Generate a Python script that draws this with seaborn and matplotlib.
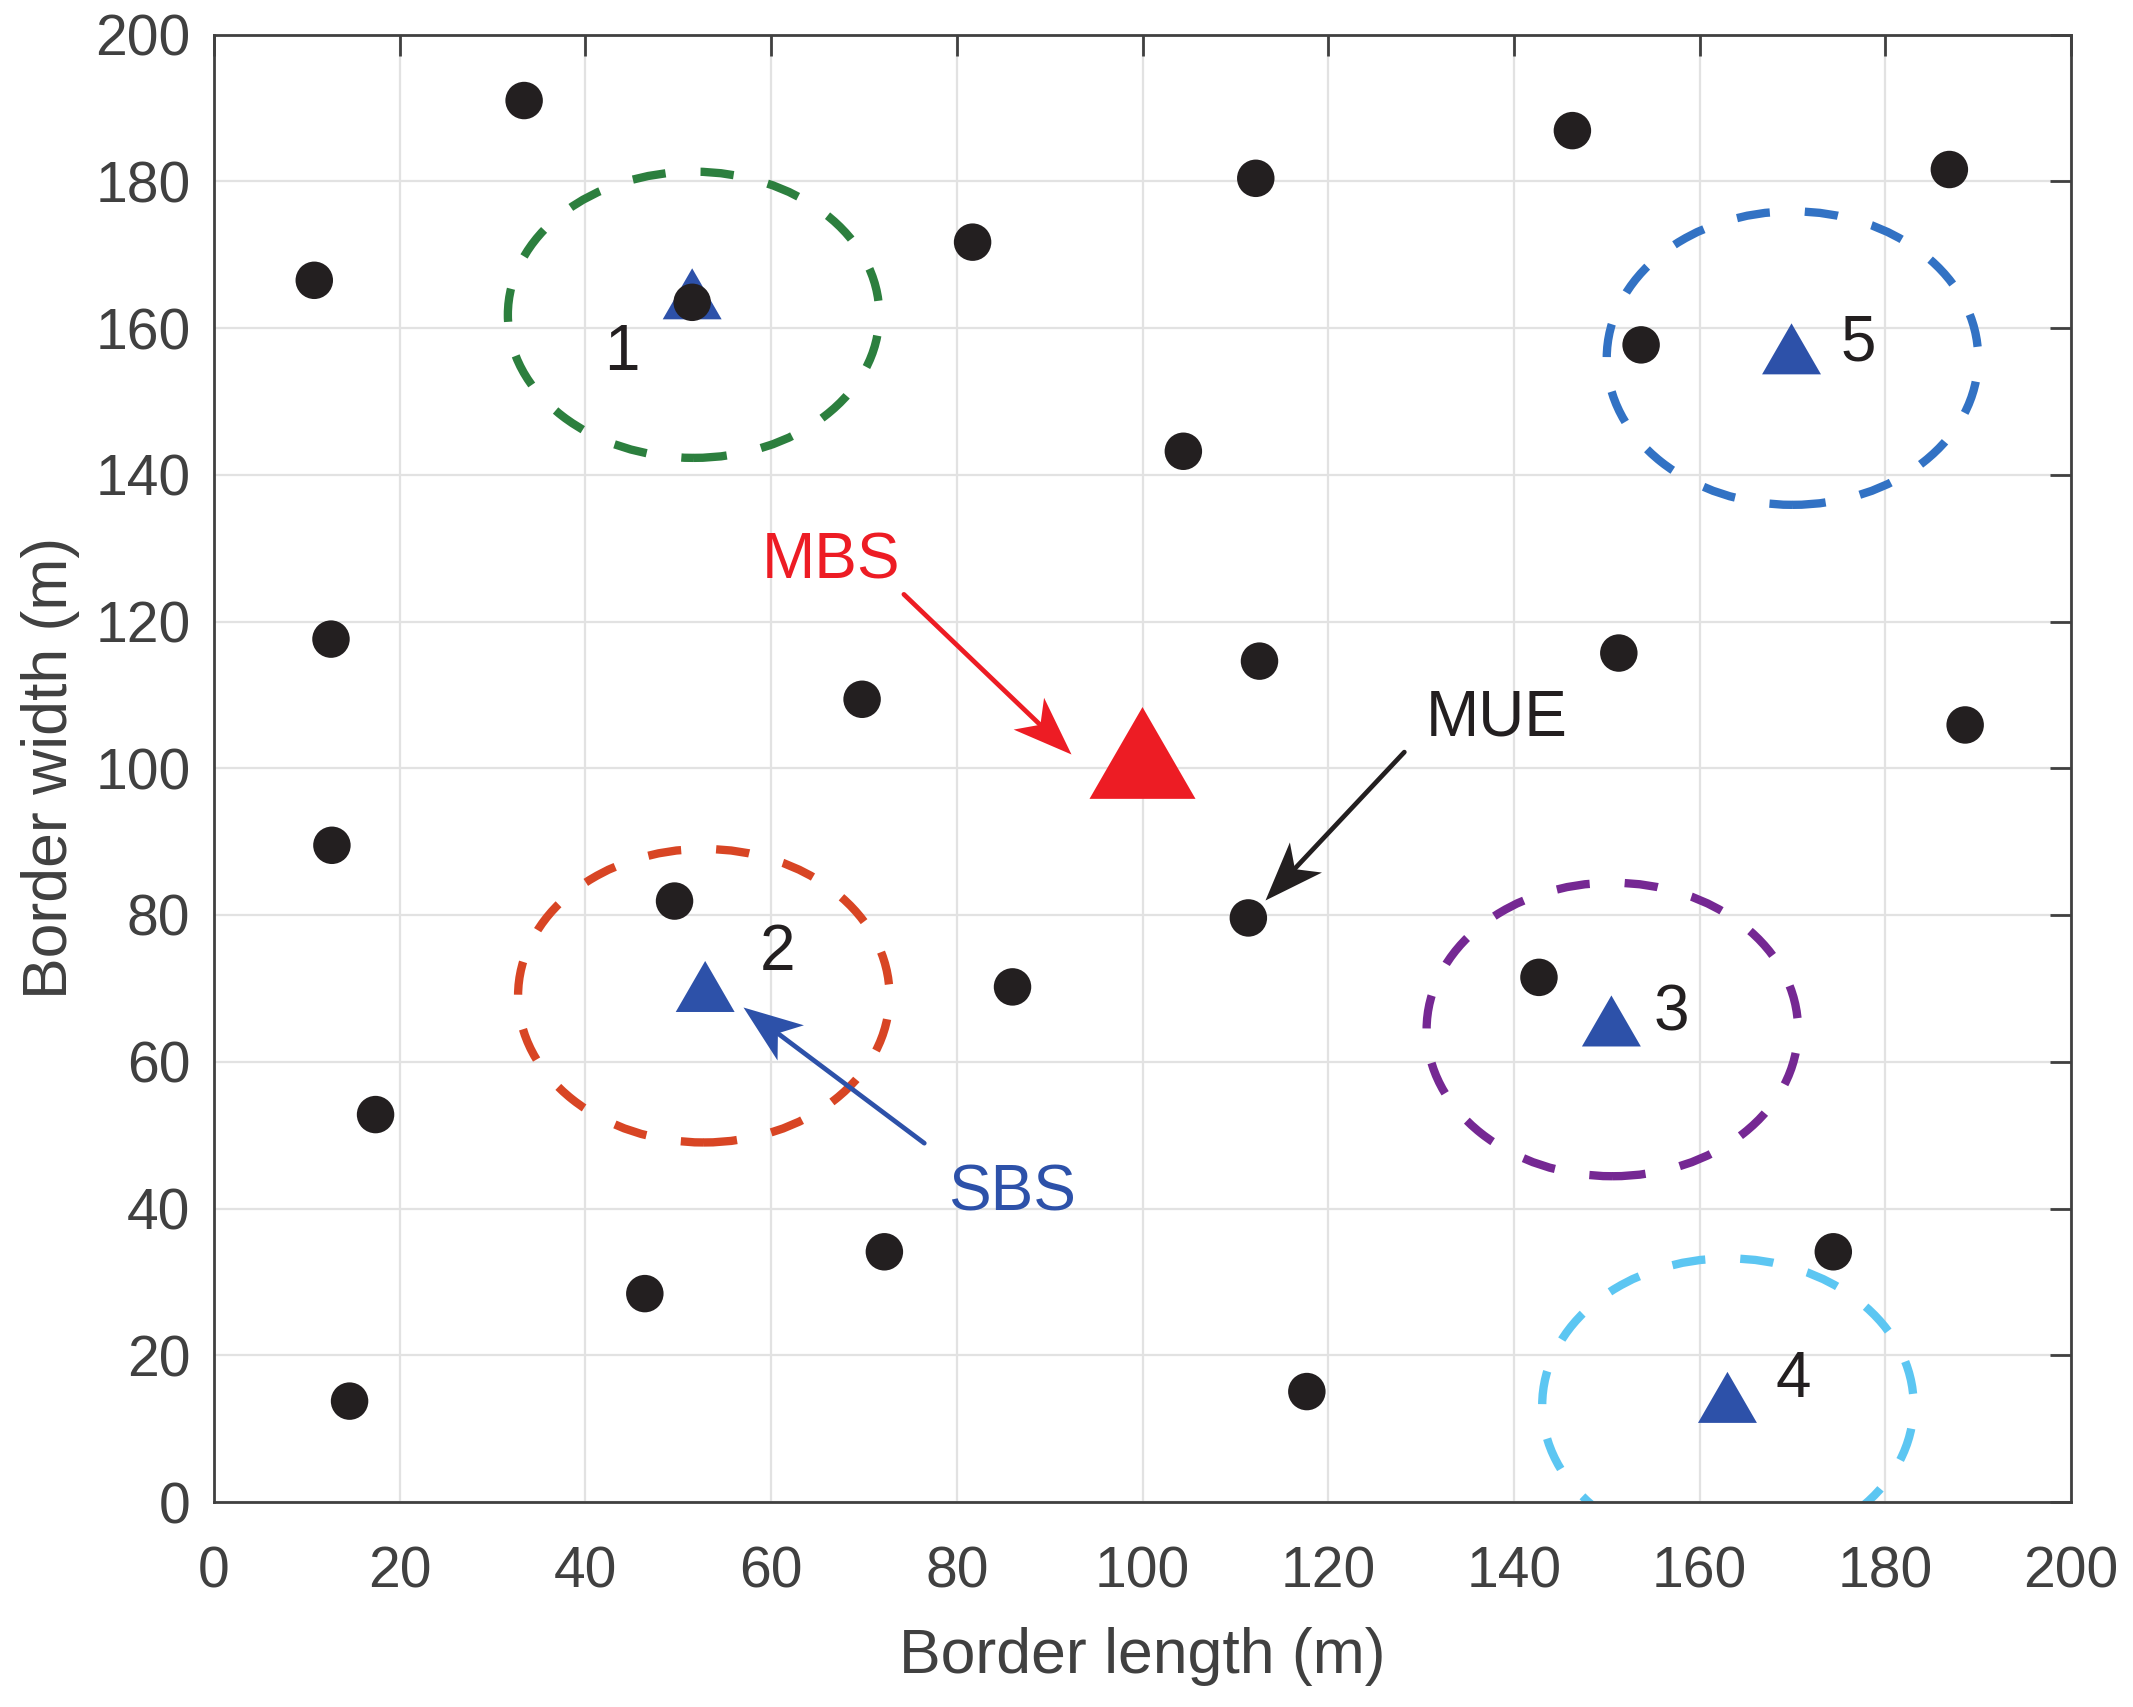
import numpy as np
import matplotlib
matplotlib.use("Agg")
import matplotlib.pyplot as plt
import seaborn as sns
from matplotlib.patches import Ellipse
from matplotlib.path import Path
from matplotlib.markers import MarkerStyle
from matplotlib.transforms import Affine2D

# ---------------- data ----------------
ue_x = [33.4, 10.8, 51.5, 81.7, 112.2, 146.3, 186.9, 153.7, 104.4, 12.6,
        69.8, 112.6, 151.3, 188.6, 12.7, 49.6, 111.4, 86.0, 142.7, 17.4,
        72.2, 46.4, 174.4, 14.6, 117.7]
ue_y = [191.0, 166.5, 163.5, 171.7, 180.4, 186.9, 181.6, 157.7, 143.2, 117.6,
        109.4, 114.6, 115.7, 105.9, 89.5, 81.9, 79.6, 70.2, 71.5, 52.8,
        34.1, 28.4, 34.1, 13.75, 15.05]

sbs_x = [51.5, 52.9, 150.5, 163.0, 169.9]
sbs_y = [163.5, 69.1, 64.4, 13.1, 156.0]
sbs_labels = ["1", "2", "3", "4", "5"]
sbs_label_x = [43.9, 60.7, 157.0, 170.1, 177.1]
sbs_label_y = [154.3, 72.5, 64.3, 14.3, 155.6]

cov_x = [51.65, 52.75, 150.6, 163.05, 170.0]
cov_y = [161.8, 69.0, 64.4, 13.2, 155.9]
cov_rx = [20.0, 20.0, 20.0, 20.0, 20.0]
cov_ry = [19.5, 20.0, 20.0, 20.0, 20.0]
cov_colors = ["#2C7F3E", "#D84524", "#752893", "#5CC6F2", "#3272C4"]

mbs_x = [100.0]
mbs_y = [100.0]

ann_text = ["MBS", "MUE", "SBS"]
ann_text_x = [66.4, 138.2, 85.9]
ann_text_y = [125.9, 104.4, 39.7]
ann_tail_x = [74.3, 128.2, 76.5]
ann_tail_y = [123.7, 102.2, 48.9]
ann_tip_x = [92.3, 113.2, 57.0]
ann_tip_y = [101.9, 82.0, 67.4]
ann_colors = ["#ED1C24", "#231F20", "#2D51A9"]

xticks = list(range(0, 201, 20))
yticks = list(range(0, 201, 20))

# ---------------- style ----------------
sns.set_theme(style="white")
plt.rcParams["font.family"] = ["Liberation Sans", "DejaVu Sans"]
AX_COLOR = "#404040"

W, H, DPI = 2133, 1707, 200
fig = plt.figure(figsize=(W / DPI, H / DPI), dpi=DPI)
ax = fig.add_axes([214 / W, 1 - 1502 / H, 1857 / W, 1467.5 / H])

ax.set_xlim(0, 200)
ax.set_ylim(0, 200)
ax.set_xticks(xticks)
ax.set_yticks(yticks)
ax.grid(True, color="#e2e2e2", linewidth=0.8)
ax.set_axisbelow(True)
for sp in ax.spines.values():
    sp.set_visible(True)
    sp.set_color(AX_COLOR)
    sp.set_linewidth(1.0)
ax.tick_params(axis="both", direction="in", top=True, right=True,
               length=7.4, width=1.0, color=AX_COLOR, labelcolor=AX_COLOR,
               labelsize=20.5)
ax.tick_params(axis="x", pad=15.5)
ax.tick_params(axis="y", pad=8.5)
ax.set_xlabel("Border length (m)", fontsize=22.5, color=AX_COLOR, labelpad=10)
ax.set_ylabel("Border width (m)", fontsize=22.5, color=AX_COLOR, labelpad=5.5)

# coverage circles
for cx, cy, rx, ry, c in zip(cov_x, cov_y, cov_rx, cov_ry, cov_colors):
    e = Ellipse((cx, cy), 2 * rx, 2 * ry, fill=False, edgecolor=c,
                linewidth=3.0, linestyle=(0, (4.0, 4.2)), zorder=2)
    ax.add_patch(e)

# equilateral triangle marker centred on its centroid
tri = MarkerStyle([(0, 1), (-0.866, -0.5), (0.866, -0.5)])

sns.scatterplot(x=sbs_x, y=sbs_y, marker=tri, s=600, color="#2D51A9",
                edgecolor="none", linewidth=0, ax=ax, zorder=3, legend=False)
sns.scatterplot(x=mbs_x, y=mbs_y, marker=tri, s=1942, color="#ED1C24",
                edgecolor="none", linewidth=0, ax=ax, zorder=3, legend=False)
sns.scatterplot(x=ue_x, y=ue_y, marker="o", s=182, color="#231F20",
                edgecolor="none", linewidth=0, ax=ax, zorder=4, legend=False)

for t, x, y in zip(sbs_labels, sbs_label_x, sbs_label_y):
    ax.text(x, y, t, fontsize=23, color="#231F20", ha="center", va="baseline",
            zorder=5)

# annotation arrows with notched heads
head_path = Path([(0, 0), (-59, 22), (-43, 0), (-59, -22), (0, 0)],
                 [Path.MOVETO, Path.LINETO, Path.LINETO, Path.LINETO, Path.CLOSEPOLY])
for t, tx, ty, ax0, ay0, bx, by, c in zip(ann_text, ann_text_x, ann_text_y,
                                          ann_tail_x, ann_tail_y,
                                          ann_tip_x, ann_tip_y, ann_colors):
    ax.text(tx, ty, t, fontsize=23, color=c, ha="center", va="baseline", zorder=5)
    ax.annotate("", xy=(bx, by), xytext=(ax0, ay0),
                arrowprops=dict(arrowstyle="-", color=c, lw=1.7,
                                shrinkA=0, shrinkB=14), zorder=5)
    p0 = ax.transData.transform((ax0, ay0))
    p1 = ax.transData.transform((bx, by))
    ang = np.degrees(np.arctan2(p1[1] - p0[1], p1[0] - p0[0]))
    hm = MarkerStyle(head_path, transform=Affine2D().rotate_deg(ang))
    ax.plot([bx], [by], linestyle="none", marker=hm, markersize=42.5,
            color=c, markeredgewidth=0, zorder=5)

fig.savefig("out.png", dpi=DPI)
